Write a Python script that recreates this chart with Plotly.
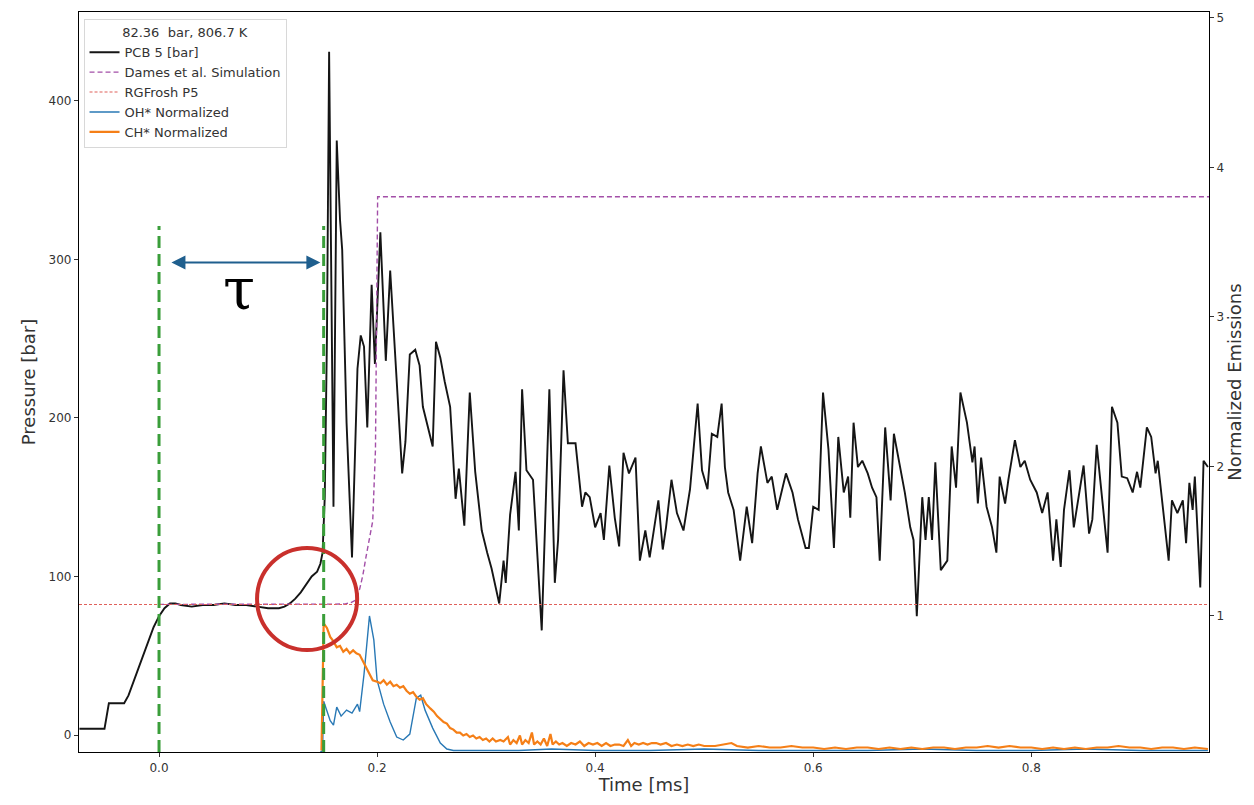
import plotly.graph_objects as go

# ---- PCB 5 pressure trace [bar] vs time [ms] ----
pcb_t = [-0.073, -0.050, -0.048, -0.046, -0.032, -0.028, -0.020, -0.012, -0.005, 0.000,
         0.005, 0.010, 0.015, 0.020, 0.030, 0.040, 0.050, 0.060, 0.070, 0.080,
         0.090, 0.100, 0.110, 0.115, 0.120, 0.125, 0.130, 0.135, 0.140, 0.145,
         0.148, 0.150, 0.152, 0.154, 0.156, 0.160, 0.163, 0.166, 0.168, 0.172,
         0.177, 0.182, 0.185, 0.188, 0.191, 0.195, 0.198, 0.203, 0.208, 0.212,
         0.218, 0.223, 0.226, 0.230, 0.235, 0.239, 0.242, 0.247, 0.251, 0.254,
         0.258, 0.262, 0.267, 0.272, 0.275, 0.280, 0.285, 0.290, 0.296, 0.301,
         0.305, 0.312, 0.316, 0.318, 0.322, 0.327, 0.330, 0.333, 0.337, 0.343,
         0.351, 0.358, 0.363, 0.366, 0.371, 0.375, 0.382, 0.388, 0.391, 0.395,
         0.400, 0.405, 0.408, 0.413, 0.418, 0.422, 0.426, 0.431, 0.437, 0.441,
         0.446, 0.450, 0.458, 0.462, 0.465, 0.470, 0.475, 0.481, 0.487, 0.494,
         0.498, 0.503, 0.507, 0.512, 0.516, 0.519, 0.522, 0.527, 0.533, 0.539,
         0.544, 0.549, 0.552, 0.558, 0.562, 0.567, 0.572, 0.575, 0.581, 0.586,
         0.593, 0.596, 0.600, 0.605, 0.609, 0.614, 0.619, 0.623, 0.628, 0.632,
         0.634, 0.637, 0.641, 0.645, 0.650, 0.654, 0.658, 0.661, 0.666, 0.671,
         0.674, 0.680, 0.684, 0.689, 0.692, 0.695, 0.700, 0.703, 0.706, 0.709,
         0.712, 0.717, 0.723, 0.727, 0.731, 0.735, 0.741, 0.746, 0.748, 0.751,
         0.754, 0.759, 0.764, 0.768, 0.771, 0.776, 0.779, 0.785, 0.790, 0.794,
         0.799, 0.805, 0.810, 0.815, 0.820, 0.823, 0.827, 0.830, 0.835, 0.839,
         0.848, 0.853, 0.856, 0.860, 0.865, 0.870, 0.874, 0.879, 0.883, 0.888,
         0.893, 0.897, 0.900, 0.906, 0.910, 0.914, 0.916, 0.921, 0.923, 0.926,
         0.929, 0.934, 0.939, 0.942, 0.945, 0.948, 0.950, 0.955, 0.958, 0.962]
pcb_p = [4, 4, 12, 20, 20, 25, 40, 55, 68, 75,
         80, 83, 83, 82, 81, 82, 82, 83, 82, 82,
         81, 80, 80, 81, 83, 86, 90, 95, 100, 103,
         108, 115, 150, 250, 431, 144, 375, 325, 306, 197,
         112, 231, 252, 245, 194, 284, 234, 317, 236, 293,
         221, 165, 185, 240, 243, 233, 207, 194, 182, 248,
         238, 223, 207, 149, 168, 132, 216, 166, 129, 115,
         105, 83, 110, 96, 139, 166, 129, 218, 167, 161,
         66, 218, 96, 123, 230, 184, 184, 144, 153, 150,
         131, 140, 123, 170, 137, 119, 178, 165, 175, 110,
         129, 112, 148, 117, 131, 161, 140, 129, 155, 209,
         167, 155, 190, 188, 209, 169, 153, 142, 110, 144,
         121, 165, 182, 159, 163, 142, 156, 165, 153, 136,
         118, 118, 144, 142, 216, 180, 118, 188, 153, 163,
         137, 197, 169, 173, 165, 156, 150, 110, 194, 148,
         190, 169, 153, 131, 123, 75, 150, 123, 150, 123,
         172, 104, 110, 182, 156, 216, 197, 172, 182, 146,
         175, 144, 131, 115, 163, 146, 161, 186, 169, 173,
         161, 153, 140, 153, 110, 136, 106, 142, 167, 131,
         170, 127, 136, 183, 148, 115, 207, 197, 163, 162,
         153, 166, 156, 194, 188, 165, 173, 140, 129, 110,
         148, 140, 148, 121, 159, 142, 163, 93, 173, 169]

# ---- Dames et al. simulated pressure [bar] ----
sim_t = [0.000, 0.170, 0.176, 0.180, 0.184, 0.187, 0.190, 0.193, 0.196, 0.1985, 0.2005, 0.963]
sim_p = [82.4, 82.6, 83.5, 85, 92, 101, 113, 123, 135, 180, 339.5, 339.5]

# ---- RGFrosh P5 reference pressure [bar] ----
p5_value = 82.36

# ---- OH* normalized emission ----
oh_t = [0.148, 0.150, 0.151, 0.157, 0.160, 0.163, 0.167, 0.172, 0.177, 0.182,
        0.184, 0.188, 0.193, 0.197, 0.200, 0.206, 0.212, 0.218, 0.224, 0.230,
        0.236, 0.240, 0.244, 0.251, 0.258, 0.264, 0.270, 0.280, 0.300, 0.330,
        0.360, 0.400, 0.450, 0.500, 0.550, 0.600, 0.650, 0.700, 0.750, 0.800,
        0.850, 0.900, 0.962]
oh_v = [0.09, 0.10, 0.43, 0.30, 0.27, 0.39, 0.33, 0.37, 0.35, 0.41,
        0.36, 0.61, 1.00, 0.84, 0.57, 0.41, 0.29, 0.19, 0.17, 0.21,
        0.45, 0.47, 0.37, 0.25, 0.15, 0.11, 0.10, 0.10, 0.10, 0.10,
        0.11, 0.10, 0.10, 0.11, 0.10, 0.10, 0.10, 0.11, 0.10, 0.10,
        0.11, 0.10, 0.10]

# ---- CH* normalized emission ----
ch_t = [0.149, 0.151, 0.154, 0.157, 0.160, 0.163, 0.166, 0.169, 0.172, 0.175,
        0.178, 0.181, 0.184, 0.187, 0.191, 0.194, 0.196, 0.200, 0.203, 0.206,
        0.209, 0.212, 0.215, 0.218, 0.221, 0.224, 0.227, 0.230, 0.233, 0.236,
        0.239, 0.242, 0.245, 0.249, 0.252, 0.255, 0.258, 0.261, 0.264, 0.267,
        0.270, 0.273, 0.276, 0.279, 0.282, 0.285, 0.288, 0.291, 0.294, 0.297,
        0.300, 0.303, 0.306, 0.309, 0.313, 0.316, 0.320, 0.322, 0.325, 0.328,
        0.331, 0.333, 0.336, 0.339, 0.342, 0.344, 0.347, 0.350, 0.353, 0.356,
        0.359, 0.361, 0.364, 0.367, 0.370, 0.374, 0.378, 0.382, 0.386, 0.390,
        0.394, 0.398, 0.402, 0.406, 0.410, 0.414, 0.418, 0.422, 0.426, 0.430,
        0.433, 0.436, 0.440, 0.444, 0.448, 0.452, 0.456, 0.460, 0.465, 0.470,
        0.475, 0.480, 0.485, 0.490, 0.495, 0.500, 0.510, 0.520, 0.525, 0.530,
        0.540, 0.550, 0.560, 0.570, 0.580, 0.590, 0.600, 0.610, 0.620, 0.630,
        0.640, 0.650, 0.660, 0.670, 0.680, 0.690, 0.700, 0.710, 0.720, 0.730,
        0.740, 0.750, 0.760, 0.770, 0.780, 0.790, 0.800, 0.810, 0.820, 0.830,
        0.840, 0.850, 0.860, 0.870, 0.880, 0.890, 0.900, 0.910, 0.920, 0.930,
        0.940, 0.950, 0.962]
ch_v = [0.10, 0.95, 0.92, 0.86, 0.83, 0.79, 0.80, 0.76, 0.78, 0.75,
        0.77, 0.75, 0.74, 0.70, 0.64, 0.60, 0.57, 0.56, 0.55, 0.57,
        0.54, 0.56, 0.53, 0.54, 0.52, 0.53, 0.50, 0.48, 0.49, 0.46,
        0.44, 0.45, 0.41, 0.38, 0.36, 0.33, 0.31, 0.29, 0.28, 0.25,
        0.24, 0.22, 0.22, 0.20, 0.21, 0.19, 0.20, 0.18, 0.19, 0.17,
        0.18, 0.16, 0.18, 0.16, 0.17, 0.16, 0.19, 0.14, 0.17, 0.15,
        0.20, 0.14, 0.17, 0.15, 0.22, 0.14, 0.16, 0.14, 0.18, 0.13,
        0.21, 0.14, 0.16, 0.14, 0.15, 0.13, 0.15, 0.14, 0.16, 0.13,
        0.15, 0.14, 0.15, 0.13, 0.15, 0.13, 0.14, 0.14, 0.13, 0.17,
        0.13, 0.15, 0.14, 0.15, 0.14, 0.15, 0.15, 0.14, 0.15, 0.13,
        0.14, 0.13, 0.14, 0.13, 0.14, 0.13, 0.13, 0.14, 0.15, 0.13,
        0.12, 0.13, 0.12, 0.12, 0.13, 0.12, 0.12, 0.11, 0.12, 0.11,
        0.12, 0.12, 0.11, 0.12, 0.11, 0.12, 0.11, 0.12, 0.12, 0.11,
        0.12, 0.12, 0.13, 0.12, 0.13, 0.12, 0.12, 0.11, 0.12, 0.11,
        0.12, 0.11, 0.12, 0.12, 0.13, 0.12, 0.12, 0.11, 0.12, 0.12,
        0.11, 0.12, 0.11]

# ---- Ignition-delay markers [ms] ----
t_start = 0.0
t_ignition = 0.151

x_range = [-0.0734, 0.963]
p_range = [-10.7, 456]
em_range = [0.09, 5.04]

fig = go.Figure()

fig.add_trace(go.Scatter(x=pcb_t, y=pcb_p, mode="lines", name="PCB 5 [bar]",
                         line=dict(color="#151515", width=1.9)))
fig.add_trace(go.Scatter(x=sim_t, y=sim_p, mode="lines", name="Dames et al. Simulation",
                         line=dict(color="#a34fa8", width=1.4, dash="5px,3px")))
fig.add_trace(go.Scatter(x=x_range, y=[p5_value, p5_value], mode="lines", name="RGFrosh P5",
                         line=dict(color="#e0605a", width=1.1, dash="3px,2px")))
fig.add_trace(go.Scatter(x=oh_t, y=oh_v, mode="lines", name="OH* Normalized", yaxis="y2",
                         line=dict(color="#2878b5", width=1.4)))
fig.add_trace(go.Scatter(x=ch_t, y=ch_v, mode="lines", name="CH* Normalized", yaxis="y2",
                         line=dict(color="#f57f17", width=2.2)))

# Green dashed lines marking the start and the ignition point
for tv in (t_start, t_ignition):
    fig.add_shape(type="line", xref="x", yref="y", x0=tv, x1=tv, y0=p_range[0], y1=321,
                  line=dict(color="#3a9e3a", width=3, dash="12px,6px"))

# Red circle highlighting the pre-ignition pressure rise
fig.add_shape(type="circle", xref="x", yref="y", x0=0.0899, x1=0.1817, y0=53.6, y1=118,
              line=dict(color="#c9302c", width=4))

# Double-headed arrow for the ignition delay
fig.add_annotation(x=0.148, y=298, ax=0.010, ay=298, xref="x", yref="y", axref="x", ayref="y",
                   text="", showarrow=True, arrowside="end+start", arrowhead=2,
                   arrowsize=1.4, arrowwidth=2, arrowcolor="#1f5f8e")
fig.add_annotation(x=0.073, y=281, xref="x", yref="y", text="τ", showarrow=False,
                   font=dict(family="DejaVu Serif", size=58, color="black"))

tick_font = dict(family="DejaVu Sans", size=12, color="#333333")
title_font = dict(family="DejaVu Sans", size=18, color="#333333")

fig.update_layout(
    width=1254, height=805,
    margin=dict(l=79, r=45, t=12, b=53),
    paper_bgcolor="white", plot_bgcolor="white",
    showlegend=True,
    legend=dict(x=0.004, y=0.99, xanchor="left", yanchor="top",
                bgcolor="rgba(255,255,255,0.85)", bordercolor="#d8d8d8", borderwidth=1,
                font=dict(family="DejaVu Sans", size=13, color="#333333"),
                title=dict(text="82.36  bar, 806.7 K", side="top center",
                           font=dict(family="DejaVu Sans", size=13, color="#333333")),
                tracegroupgap=0, itemwidth=30),
    xaxis=dict(range=x_range, tickvals=[0.0, 0.2, 0.4, 0.6, 0.8], tickformat=".1f",
               showgrid=False, zeroline=False, showline=True, linecolor="black", linewidth=1.2,
               mirror=True, ticks="outside", ticklen=4, tickcolor="#333333", tickfont=tick_font,
               title=dict(text="Time [ms]", font=title_font, standoff=4)),
    yaxis=dict(range=p_range, tickvals=[0, 100, 200, 300, 400],
               showgrid=False, zeroline=False, showline=True, linecolor="black", linewidth=1.2,
               ticks="outside", ticklen=4, tickcolor="#333333", tickfont=tick_font,
               title=dict(text="Pressure [bar]", font=title_font, standoff=8)),
    yaxis2=dict(range=em_range, overlaying="y", side="right", tickvals=[1, 2, 3, 4, 5],
                showgrid=False, zeroline=False, showline=True, linecolor="black", linewidth=1.2,
                ticks="outside", ticklen=4, tickcolor="#333333", tickfont=tick_font,
                title=dict(text="Normalized Emissions", font=title_font, standoff=4)),
)

fig.write_html("out.html")
